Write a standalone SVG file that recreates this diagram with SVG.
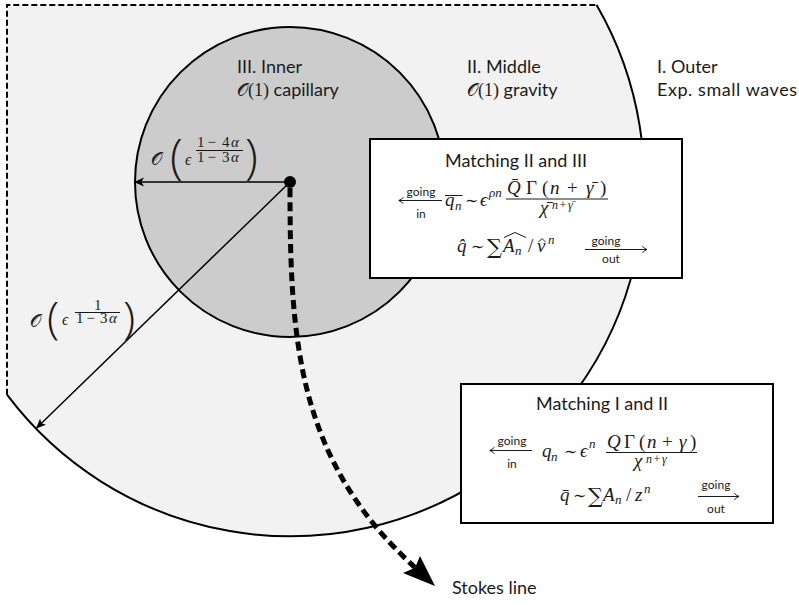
<svg xmlns="http://www.w3.org/2000/svg" width="799" height="605" viewBox="0 0 799 605">
<defs>
<style>
.lbl{font-family:Lato,"Open Sans","Liberation Sans",sans-serif;font-size:18px;fill:#1a1a1a}
.sm{font-family:Lato,"Open Sans","Liberation Sans",sans-serif;font-size:12px;fill:#1a1a1a;text-anchor:middle}
.m{font-family:"Liberation Serif","DejaVu Serif",serif;font-size:19px;fill:#1a1a1a}
.i{font-style:italic}
.sup{font-size:13px}
.dsup{font-size:12px}
.cal{font-family:"DejaVu Serif","DejaVu Sans","Noto Sans",serif;font-size:18px;font-style:normal}
.paren{font-family:"Open Sans","Liberation Sans",sans-serif;font-weight:300;font-style:normal}
.sum{font-family:"DejaVu Serif","Liberation Serif",serif;font-size:21px}
.sim{font-size:16px}
.fr{font-size:15px}
.bx{fill:#fff;stroke:#000;stroke-width:2}
.ln{stroke:#000;stroke-width:0.9;fill:none}
.rad{stroke:#000;stroke-width:1.5;fill:none}
</style>
<marker id="tip" markerUnits="userSpaceOnUse" markerWidth="12" markerHeight="10" refX="10" refY="5" orient="auto">
<path d="M0,0.6 L10,5 L0,9.4 L2.6,5 Z" fill="#000"/>
</marker>
</defs>

<g id="outer-region">
<path d="M7,5 L596.6,5 A354,354 0 0,1 7,394.7 Z" fill="#f2f2f2"/>
<path d="M596.6,5 A354,354 0 0,1 7,394.7" fill="none" stroke="#000" stroke-width="2"/>
<path d="M7,394.7 L7,5 L596.6,5" fill="none" stroke="#000" stroke-width="2" stroke-dasharray="6 3"/>
<text class="lbl" x="657" y="73">I. Outer</text>
<text class="lbl" x="657" y="96" textLength="140" lengthAdjust="spacing">Exp. small waves</text>
</g>

<g id="middle-region">
<text class="lbl" x="467" y="73">II. Middle</text>
<text class="lbl" x="467" y="96"><tspan class="cal">𝒪</tspan><tspan style="font-family:'Liberation Serif',serif">(1)</tspan> gravity</text>
</g>

<g id="inner-region">
<circle cx="290" cy="182" r="155" fill="#cccccc" stroke="#000" stroke-width="2"/>
<text class="lbl" x="237" y="73">III. Inner</text>
<text class="lbl" x="237" y="96"><tspan class="cal">𝒪</tspan><tspan style="font-family:'Liberation Serif',serif">(1)</tspan> capillary</text>
</g>

<g id="connectors">
<line class="rad" x1="290" y1="182" x2="134" y2="182" marker-end="url(#tip)"/>
<line class="rad" x1="290" y1="182" x2="36" y2="428.5" marker-end="url(#tip)"/>
<path d="M290,188 C290,340 297,460 415,567.5" fill="none" stroke="#000" stroke-width="5" stroke-dasharray="9 5"/>
<path d="M435,586 L403,573 L415,567.7 L420,556 Z" fill="#000"/>
<circle cx="290" cy="182" r="6" fill="#000"/>
</g>

<g id="label-inner-radius">
<line class="ln" x1="196" y1="150.5" x2="243" y2="150.5"/>
<text class="m"><tspan class="cal" x="151" y="165">𝒪</tspan><tspan class="paren" x="170" y="173" style="font-size:47px">(</tspan><tspan class="i" x="185" y="165" style="font-size:16px">ϵ</tspan><tspan class="fr" x="197" y="147">1</tspan><tspan class="fr" x="207.5" y="147">−</tspan><tspan class="fr" x="222" y="147">4</tspan><tspan class="fr i" x="231" y="147">α</tspan><tspan class="fr" x="197" y="162">1</tspan><tspan class="fr" x="207.5" y="162">−</tspan><tspan class="fr" x="222" y="162">3</tspan><tspan class="fr i" x="231" y="162">α</tspan><tspan class="paren" x="245" y="173" style="font-size:47px">)</tspan></text>
</g>

<g id="label-outer-radius">
<line class="ln" x1="75" y1="312.5" x2="120" y2="312.5"/>
<text class="m"><tspan class="cal" x="30" y="327">𝒪</tspan><tspan class="paren" x="47" y="334" style="font-size:45px">(</tspan><tspan class="i" x="62" y="325" style="font-size:16px">ϵ</tspan><tspan class="fr" x="94" y="310">1</tspan><tspan class="fr" x="76" y="323">1</tspan><tspan class="fr" x="86.5" y="323">−</tspan><tspan class="fr" x="100" y="323">3</tspan><tspan class="fr i" x="109" y="323">α</tspan><tspan class="paren" x="123" y="334" style="font-size:45px">)</tspan></text>
</g>

<g id="matching-II-III">
<rect class="bx" x="370" y="139" width="312" height="139"/>
<text class="lbl" x="445" y="167">Matching II and III</text>
<path class="ln" d="M442,200.5 H399 M403.5,197.2 Q401,199.8 398.8,200.5 Q401,201.2 403.5,203.8"/>
<text class="sm" x="421" y="196">going</text>
<text class="sm" x="421" y="218">in</text>
<line class="ln" x1="445" y1="195.5" x2="462.5" y2="195.5"/>
<text class="m"><tspan class="i" x="445" y="206">q</tspan><tspan class="i sup" x="455" y="210">n</tspan><tspan class="sim" x="465" y="206">∼</tspan><tspan class="i" x="480" y="206">ϵ</tspan><tspan class="i sup" x="489" y="197">ρn</tspan></text>
<text class="m"><tspan class="i" x="507" y="194">Q̄</tspan><tspan x="526" y="194">Γ</tspan><tspan x="542" y="194">(</tspan><tspan class="i" x="550" y="194">n</tspan><tspan x="567" y="194">+</tspan><tspan class="i" x="586" y="194">γ̄</tspan><tspan x="600" y="194">)</tspan></text>
<line class="ln" x1="506" y1="199" x2="608" y2="199"/>
<text class="m"><tspan class="i" x="540" y="214">χ̄</tspan><tspan class="i dsup" x="552" y="209">n</tspan><tspan class="dsup" x="559.5" y="209">+</tspan><tspan class="i dsup" x="568" y="209">γ̄</tspan></text>
<polyline class="ln" points="504,237.5 515,232.5 526,237.5"/>
<polyline class="ln" points="538.5,242 542,238.5 545.5,242"/>
<text class="m"><tspan class="i" x="457" y="252">q̂</tspan><tspan class="sim" x="471" y="252">∼</tspan><tspan class="sum" x="487" y="254">∑</tspan><tspan class="i" x="503" y="252">A</tspan><tspan class="i sup" x="515" y="255">n</tspan><tspan x="528" y="252">/</tspan><tspan class="i" x="537" y="252">ν</tspan><tspan class="i sup" x="548" y="244">n</tspan></text>
<text class="sm" x="606" y="245">going</text>
<path class="ln" d="M585,249.5 H646 M642.3,246.2 Q644.8,248.8 647,249.5 Q644.8,250.2 642.3,252.8"/>
<text class="sm" x="611" y="263">out</text>
</g>

<g id="matching-I-II">
<rect class="bx" x="461" y="384" width="312" height="139"/>
<text class="lbl" x="536" y="410">Matching I and II</text>
<path class="ln" d="M532,450.5 H490 M494.5,447.2 Q492,449.8 489.8,450.5 Q492,451.2 494.5,453.8"/>
<text class="sm" x="512" y="445">going</text>
<text class="sm" x="512" y="468">in</text>
<text class="m"><tspan class="i" x="542" y="457">q</tspan><tspan class="i sup" x="551" y="461">n</tspan><tspan class="sim" x="564" y="457">∼</tspan><tspan class="i" x="580" y="457">ϵ</tspan><tspan class="i sup" x="589" y="448">n</tspan></text>
<text class="m"><tspan class="i" x="607" y="448">Q</tspan><tspan x="624" y="448">Γ</tspan><tspan x="639" y="448">(</tspan><tspan class="i" x="647" y="448">n</tspan><tspan x="662" y="448">+</tspan><tspan class="i" x="679" y="448">γ</tspan><tspan x="690" y="448">)</tspan></text>
<line class="ln" x1="606" y1="452.5" x2="697" y2="452.5"/>
<text class="m"><tspan class="i" x="634" y="467">χ</tspan><tspan class="i dsup" x="646" y="463">n</tspan><tspan class="dsup" x="653.5" y="463">+</tspan><tspan class="i dsup" x="662" y="463">γ</tspan></text>
<text class="m"><tspan class="i" x="560" y="501">q̄</tspan><tspan class="sim" x="573" y="501">∼</tspan><tspan class="sum" x="588" y="503">∑</tspan><tspan class="i" x="603" y="501">A</tspan><tspan class="i sup" x="615" y="504">n</tspan><tspan x="626" y="501">/</tspan><tspan class="i" x="635" y="501">z</tspan><tspan class="i sup" x="644" y="493">n</tspan></text>
<text class="sm" x="716" y="489">going</text>
<path class="ln" d="M698,496.5 H738 M734.3,493.2 Q736.8,495.8 739,496.5 Q736.8,497.2 734.3,499.8"/>
<text class="sm" x="716" y="513">out</text>
</g>

<g id="stokes-label">
<text class="lbl" x="452" y="594">Stokes line</text>
</g>
</svg>
